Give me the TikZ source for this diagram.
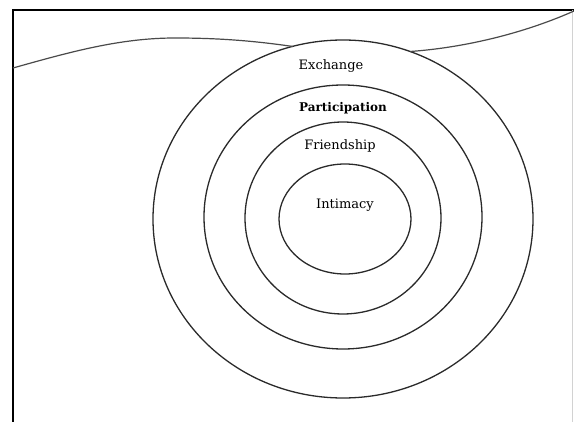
\documentclass[tikz,border=0pt]{standalone}
\usepackage{xcolor}
\usepackage{fontspec}
\setmainfont{DejaVu Serif}
\usetikzlibrary{positioning, shapes.geometric}
\definecolor{ink}{HTML}{2A2A2A}

\begin{document}
\begin{tikzpicture}[x=1pt, y=-1pt,
      ring/.style ={draw=ink, ellipse, line width=1.3pt, inner sep=0pt},
      label/.style={font=\fontsize{13}{15}\selectfont, text=black, inner sep=1pt},
      frame/.style={draw=black, line width=1.8pt},
      wave/.style ={draw=ink!85, line width=1.2pt}]

    \useasboundingbox (0,0) rectangle (574,422);
    \coordinate (c) at (343,219);

    % the rings
    \node[ring, minimum width=380pt, minimum height=358pt] (exch) at (c) {};
    \node[ring, minimum width=278pt, minimum height=264pt] (part) at (343,217) {};
    \node[ring, minimum width=196pt, minimum height=192pt] (frnd) at (343,218) {};
    \node[ring, minimum width=132pt, minimum height=110pt] (intm) at (345,219) {};

    % labels
    \node[label] (lexch) at (331,66)  {Exchange};
    \node[label, font=\fontsize{12}{15}\selectfont\bfseries] (lpart) at (343,108) {Participation};
    \node[label] (lfrnd) at (340,146) {Friendship};
    \node[label] (lintm) at (345,205) {Intimacy};

    % frame
    \draw[frame] (574,10) -- (13,10) -- (13,422);
    \draw[gray!35, line width=0.6pt] (572,10) -- (572,422);

    % the line across the top
    \coordinate (wl) at (13,68);
    \coordinate (wr) at (574,11);
    \draw[wave] (wl) .. controls (70,52) and (120,38) .. (175,38)
                     .. controls (220,38) and (255,41) .. (293,46.5);
    \draw[wave] (410,51.5) .. controls (460,48) and (520,35) .. (wr);
  \end{tikzpicture}
\end{document}
